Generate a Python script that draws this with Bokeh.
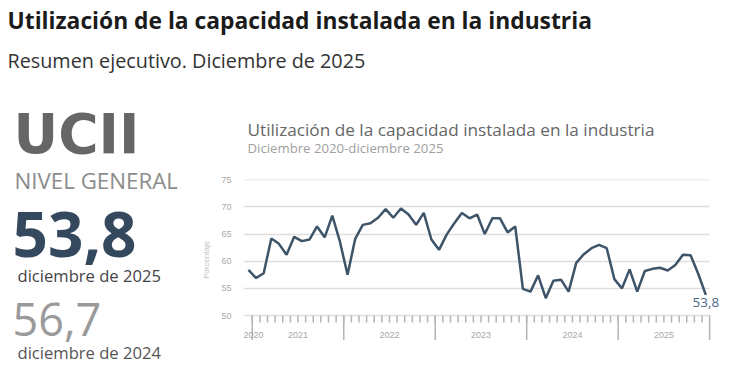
from bokeh.plotting import figure
from bokeh.layouts import column, row
from bokeh.models import FixedTicker, Label, Range1d
from bokeh.core.properties import value
from bokeh.embed import file_html
from bokeh.resources import INLINE

# ---- data -------------------------------------------------------------
# month index 0 = diciembre 2020 ... 60 = diciembre 2025
months = list(range(61))
ucii = [58.4, 56.9, 57.8, 64.2, 63.2, 61.2, 64.5, 63.7, 64.0, 66.4, 64.4, 68.4,
        63.6, 57.5, 64.1, 66.7, 67.0, 68.0, 69.6, 68.0, 69.7, 68.6, 66.7, 68.9,
        64.0, 62.1, 64.9, 67.0, 68.9, 67.9, 68.6, 65.0, 67.9, 67.9, 65.3, 66.4,
        54.9, 54.4, 57.4, 53.2, 56.4, 56.6, 54.4, 59.7, 61.3, 62.4, 63.0, 62.4,
        56.7, 55.0, 58.5, 54.4, 58.2, 58.6, 58.8, 58.3, 59.3, 61.2, 61.1, 57.7,
        53.8]
year_labels = ["2020", "2021", "2022", "2023", "2024", "2025"]
year_centers = [-0.65, 6.5, 18.5, 30.5, 42.5, 54.5]
year_bounds = [0.5, 12.5, 24.5, 36.5, 48.5, 60.5]
month_bounds = [i + 0.5 for i in range(60)]
y_ticks = [50, 55, 60, 65, 70, 75]

title = "Utilización de la capacidad instalada en la industria"
subtitle = "Resumen ejecutivo. Diciembre de 2025"
kpi_name = "UCII"
kpi_level = "NIVEL GENERAL"
current_value = "53,8"
current_label = "diciembre de 2025"
previous_value = "56,7"
previous_label = "diciembre de 2024"
chart_title = "Utilización de la capacidad instalada en la industria"
chart_subtitle = "Diciembre 2020-diciembre 2025"
last_label = "53,8"

LINE = "#3d5469"
FONT = "Open Sans"
AX_FONT = "Liberation Sans"
TICK = "#b4b4b4"

# chart frame borders (px); the frame also holds the x-axis tick strip
BL, BR, BT, BB = 45, 6, 19, 26
PX_PER_UNIT = 5.44          # vertical scale of the chart (px per point)
Y_MIN = 50 - 25 / PX_PER_UNIT
MINOR_LEN = 7 / PX_PER_UNIT
MAJOR_LEN = 24.5 / PX_PER_UNIT
LABEL_DROP = 19 / PX_PER_UNIT


def text_panel(w, h, bl=0, br=0):
    f = figure(width=w, height=h, output_backend="svg", toolbar_location=None,
               x_range=Range1d(0, w - bl - br), y_range=Range1d(h, 0),
               x_axis_type=None, y_axis_type=None, min_border=0,
               min_border_left=bl, min_border_right=br)
    f.outline_line_color = None
    f.grid.visible = False
    f.background_fill_color = "white"
    f.border_fill_color = "white"
    return f


def lab(f, x, base, text, size, color, style="normal", font=FONT):
    # place by alphabetic baseline (renderer sits ~0.39em low)
    f.add_layout(Label(x=x, y=base - 0.39 * size, text=text, text_font=font,
                       text_font_size=f"{size}px", text_color=color,
                       text_font_style=style, text_baseline="alphabetic",
                       text_align="left"))


# header
head = text_panel(730, 100)
lab(head, 7, 29, title, 22.8, "#1b1b1b", "bold")
lab(head, 7, 68, subtitle, 19.8, "#333333")

# left KPI block
left = text_panel(198, 266)
lab(left, 13, 55, kpi_name, 55, "#666666", "bold", "DejaVu Sans")
lab(left, 14, 89, kpi_level, 22.3, "#8c8c8c")
lab(left, 12, 158, current_value, 62, "#34495e", "bold")
lab(left, 17, 181, current_label, 16.6, "#444444")
lab(left, 12, 237, previous_value, 45, "#9a9a9a")
lab(left, 17, 258, previous_label, 16.6, "#555555")

# chart heading (frame aligned with the chart frame)
chead = text_panel(532, 60, BL, BR)
lab(chead, 4, 36, chart_title, 17.2, "#666666")
lab(chead, 4, 53, chart_subtitle, 13.2, "#a0a0a0")

# chart
p = figure(width=532, height=206, output_backend="svg", toolbar_location=None,
           x_range=Range1d(-0.65, 62.45), y_range=Range1d(Y_MIN, 75.05),
           min_border_left=BL, min_border_right=BR, min_border_top=BT,
           min_border_bottom=BB)
p.outline_line_color = None
p.background_fill_color = "white"
p.border_fill_color = "white"
p.xgrid.grid_line_color = None
p.xaxis.visible = False

# horizontal grid lines stopping at the last month boundary
native = True
try:
    p.ygrid.cross_bounds = (-0.65, year_bounds[-1])
except Exception:
    native = False
if native:
    p.ygrid.ticker = FixedTicker(ticks=y_ticks)
    p.ygrid.grid_line_color = "#dedede"
    p.ygrid.grid_line_width = 1.3
else:
    p.ygrid.grid_line_color = None
    p.segment(x0=[-0.65] * len(y_ticks), x1=[year_bounds[-1]] * len(y_ticks),
              y0=y_ticks, y1=y_ticks, line_color="#dedede", line_width=1.3)

# month ticks and year-boundary ticks below the 50 line
p.segment(x0=month_bounds, x1=month_bounds,
          y0=[y_ticks[0]] * len(month_bounds),
          y1=[y_ticks[0] - MINOR_LEN] * len(month_bounds),
          line_color=TICK, line_width=1.5)
p.segment(x0=year_bounds, x1=year_bounds,
          y0=[y_ticks[0]] * len(year_bounds),
          y1=[y_ticks[0] - MAJOR_LEN] * len(year_bounds),
          line_color=TICK, line_width=1.5)

# year labels
p.text(x=year_centers[:1], y=[y_ticks[0] - LABEL_DROP], text=year_labels[:1],
       text_font=value(AX_FONT), text_font_size="9px", text_color="#a8a8a8",
       text_align="left", text_baseline="middle")
p.text(x=year_centers[1:], y=[y_ticks[0] - LABEL_DROP] * (len(year_centers) - 1),
       text=year_labels[1:], text_font=value(AX_FONT), text_font_size="9px",
       text_color="#a8a8a8", text_align="center", text_baseline="middle")

p.line(months, ucii, line_color=LINE, line_width=2.5)

# y axis
ya = p.yaxis[0]
ya.ticker = FixedTicker(ticks=y_ticks)
ya.axis_line_color = None
ya.major_tick_line_color = None
ya.minor_tick_line_color = None
ya.major_label_text_font = AX_FONT
ya.major_label_text_font_size = "9px"
ya.major_label_text_color = "#a8a8a8"
ya.major_label_standoff = 6
ya.axis_label = "Porcentaje"
ya.axis_label_text_font = AX_FONT
ya.axis_label_text_font_size = "8px"
ya.axis_label_text_font_style = "normal"
ya.axis_label_text_color = "#c0c0c0"
ya.axis_label_standoff = 7

# end label
p.add_layout(Label(x=months[-1], y=ucii[-1], text=last_label, text_align="center",
                   text_baseline="top", y_offset=-3, text_font=FONT,
                   text_font_size="13.5px", text_color="#4a6784"))

layout = column(head, row(left, column(chead, p)))
open("out.html", "w").write(file_html(layout, INLINE))
